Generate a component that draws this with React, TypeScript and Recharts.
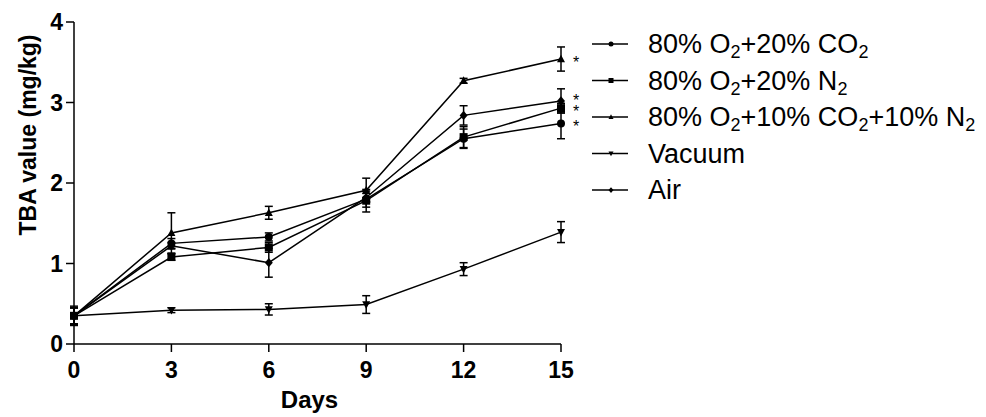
import React from 'react';
import { LineChart, Line, XAxis, YAxis, ErrorBar, Legend, LabelList, Label } from 'recharts';

const days = [0, 3, 6, 9, 12, 15];
const yTicks = [0, 1, 2, 3, 4];

// TBA means and SD per packaging condition
const o2co2 = [0.35, 1.25, 1.33, 1.8, 2.55, 2.74];
const o2co2Err = [0.1, 0.06, 0.05, 0.1, 0.12, 0.19];
const o2n2 = [0.35, 1.08, 1.2, 1.78, 2.57, 2.93];
const o2n2Err = [0.1, 0.04, 0.06, 0.14, 0.13, 0.06];
const mixed = [0.35, 1.38, 1.63, 1.91, 3.27, 3.54];
const mixedErr = [0.1, 0.25, 0.08, 0.15, 0.03, 0.15];
const vacuum = [0.35, 0.42, 0.43, 0.49, 0.93, 1.39];
const vacuumErr = [0.1, 0.03, 0.07, 0.11, 0.08, 0.13];
const air = [0.35, 1.22, 1.01, 1.82, 2.84, 3.02];
const airErr = [0.12, 0.04, 0.18, 0.05, 0.12, 0.15];

type Seg = [string, boolean];

const series: {
  key: string;
  label: Seg[];
  values: number[];
  err: number[];
  shape: string;
  star: boolean;
  starDy: number;
}[] = [
  { key: 'o2co2', label: [['80% O', false], ['2', true], ['+20% CO', false], ['2', true]], values: o2co2, err: o2co2Err, shape: 'circle', star: true, starDy: 0 },
  { key: 'o2n2', label: [['80% O', false], ['2', true], ['+20% N', false], ['2', true]], values: o2n2, err: o2n2Err, shape: 'square', star: true, starDy: 0 },
  { key: 'mixed', label: [['80% O', false], ['2', true], ['+10% CO', false], ['2', true], ['+10% N', false], ['2', true]], values: mixed, err: mixedErr, shape: 'up', star: true, starDy: 0 },
  { key: 'vacuum', label: [['Vacuum', false]], values: vacuum, err: vacuumErr, shape: 'down', star: false, starDy: 0 },
  { key: 'air', label: [['Air', false]], values: air, err: airErr, shape: 'diamond', star: true, starDy: -4 },
];

const data = days.map((d, i) => {
  const row: Record<string, number> = { day: d };
  series.forEach((s) => {
    row[s.key] = s.values[i];
    row[s.key + 'Err'] = s.err[i];
  });
  return row;
});

const FONT = '"Liberation Sans", Arial, Helvetica, sans-serif';
const INK = '#000';

function Marker({ cx, cy, shape, size }: { cx: number; cy: number; shape: string; size: number }) {
  if (cx == null || cy == null) return null;
  const h = size / 2;
  switch (shape) {
    case 'circle':
      return <circle cx={cx} cy={cy} r={h} fill={INK} />;
    case 'square':
      return <rect x={cx - h} y={cy - h} width={size} height={size} fill={INK} />;
    case 'up':
      return <polygon points={`${cx},${cy - h * 1.1} ${cx + h},${cy + h * 0.8} ${cx - h},${cy + h * 0.8}`} fill={INK} />;
    case 'down':
      return <polygon points={`${cx},${cy + h * 1.1} ${cx + h},${cy - h * 0.8} ${cx - h},${cy - h * 0.8}`} fill={INK} />;
    default:
      return <polygon points={`${cx},${cy - h * 1.15} ${cx + h},${cy} ${cx},${cy + h * 1.15} ${cx - h},${cy}`} fill={INK} />;
  }
}

function LegendBox() {
  return (
    <svg width={396} height={190} style={{ display: 'block' }}>
      {series.map((s, i) => {
        const base = 25 + i * 36.5;
        let prevSub = false;
        return (
          <g key={s.key}>
            <line x1={2} x2={38} y1={base - 9} y2={base - 9} stroke={INK} strokeWidth={1.5} />
            <Marker cx={21} cy={base - 9} shape={s.shape} size={5} />
            <text x={58} y={base} fontSize={27} fontFamily={FONT} fill={INK}>
              {s.label.map(([t, sub], j) => {
                const dy = (sub ? 5 : 0) - (prevSub ? 5 : 0);
                prevSub = sub;
                return (
                  <tspan key={j} dy={dy} fontSize={sub ? 18 : 27}>
                    {t}
                  </tspan>
                );
              })}
            </text>
          </g>
        );
      })}
    </svg>
  );
}

const tickStyle = { fill: INK, fontSize: 23, fontWeight: 'bold' as const, fontFamily: FONT };

export default function App() {
  return (
    <div style={{ position: 'absolute', left: 0, top: 0, width: 986, height: 417, background: '#fff' }}>
      <LineChart width={986} height={417} data={data} margin={{ top: 22, right: 425, bottom: 0, left: 0 }}>
        <XAxis
          dataKey="day"
          type="number"
          domain={[0, 15]}
          ticks={days}
          tick={tickStyle}
          tickSize={8}
          tickMargin={10}
          height={73}
          axisLine={{ stroke: INK, strokeWidth: 1.5 }}
          tickLine={{ stroke: INK, strokeWidth: 1.5 }}
        >
          <Label
            content={(p: any) => {
              const vb = p.viewBox || {};
              return (
                <text x={vb.x + vb.width / 2 - 8} y={vb.y + 64} textAnchor="middle" fontSize={24} fontWeight="bold" fontFamily={FONT} fill={INK}>
                  Days
                </text>
              );
            }}
          />
        </XAxis>
        <YAxis
          type="number"
          domain={[0, 4]}
          ticks={yTicks}
          tick={tickStyle}
          tickSize={8}
          tickMargin={3}
          width={74}
          axisLine={{ stroke: INK, strokeWidth: 1.5 }}
          tickLine={{ stroke: INK, strokeWidth: 1.5 }}
        >
          <Label
            content={(p: any) => {
              const vb = p.viewBox || {};
              const cx = vb.x + 28;
              const cy = vb.y + 113;
              return (
                <text
                  x={cx}
                  y={cy}
                  transform={`rotate(-90 ${cx} ${cy})`}
                  textAnchor="middle"
                  dominantBaseline="central"
                  fontSize={23}
                  fontWeight="bold"
                  fontFamily={FONT}
                  fill={INK}
                >
                  TBA value (mg/kg)
                </text>
              );
            }}
          />
        </YAxis>
        <Legend
          layout="vertical"
          align="center"
          verticalAlign="middle"
          wrapperStyle={{ left: 590, top: 28, width: 396, height: 190 }}
          content={() => <LegendBox />}
        />
        {series.map((s) => (
          <Line
            key={s.key}
            dataKey={s.key}
            name={s.key}
            stroke={INK}
            strokeWidth={1.5}
            isAnimationActive={false}
            dot={(p: any) => <Marker key={`${s.key}-${p.index}`} cx={p.cx} cy={p.cy} shape={s.shape} size={8} />}
            activeDot={false}
          >
            <ErrorBar dataKey={s.key + 'Err'} width={4} stroke={INK} strokeWidth={1.5} direction="y" />
            {s.star && (
              <LabelList
                dataKey={s.key}
                content={(p: any) =>
                  p.index === days.length - 1 ? (
                    <text x={p.x + 15} y={p.y + 9 + s.starDy} textAnchor="middle" fontSize={16} fontFamily={FONT} fill={INK}>
                      *
                    </text>
                  ) : null
                }
              />
            )}
          </Line>
        ))}
      </LineChart>
    </div>
  );
}
